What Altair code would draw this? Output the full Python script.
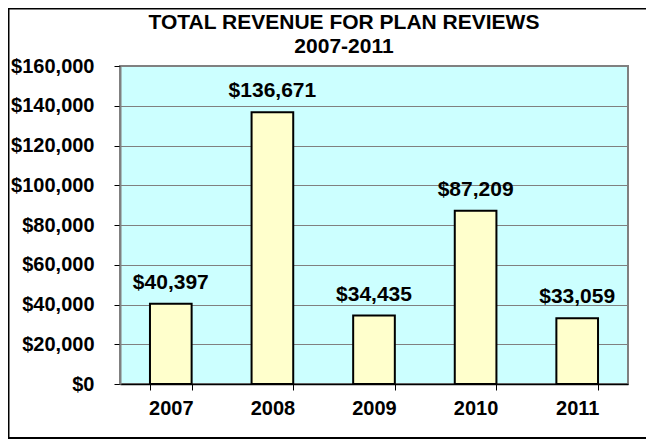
import altair as alt
import pandas as pd

years = ["2007", "2008", "2009", "2010", "2011"]
revenue = [40397, 136671, 34435, 87209, 33059]
y_ticks = [0, 20000, 40000, 60000, 80000, 100000, 120000, 140000, 160000]
title_lines = ["TOTAL REVENUE FOR PLAN REVIEWS", "2007-2011"]

df = pd.DataFrame({"year": years, "revenue": revenue})
title_df = pd.DataFrame({"line": title_lines, "row": [0, 1]})
one = pd.DataFrame({"k": [0]})
FONT = "Liberation Sans"

x_enc = alt.X(
    "year:N",
    title=None,
    sort=years,
    scale=alt.Scale(paddingInner=0.59, paddingOuter=0.295),
    axis=alt.Axis(
        labelAngle=0,
        labelFont=FONT,
        labelFontSize=20,
        labelFontWeight="bold",
        labelColor="#000000",
        labelPadding=8,
        labelOverlap=False,
        tickBand="extent",
        tickSize=6,
        tickColor="#000000",
        domainColor="#000000",
        domainWidth=1.5,
        grid=False,
    ),
)
y_enc = alt.Y(
    "revenue:Q",
    title=None,
    scale=alt.Scale(domain=[0, 160000], nice=False),
    axis=alt.Axis(
        values=y_ticks,
        tickCount=20,
        format="$,.0f",
        labelFont=FONT,
        labelFontSize=20,
        labelFontWeight="bold",
        labelColor="#000000",
        labelPadding=20,
        labelOverlap=False,
        labelBound=False,
        tickSize=6,
        tickColor="#000000",
        domainColor="#808080",
        domainWidth=2,
        grid=True,
        gridColor="#808080",
        gridWidth=1,
        gridOpacity=1,
    ),
)

bars = alt.Chart(df).mark_bar(
    color="#FFFFCC", stroke="#000000", strokeWidth=2
).encode(x=x_enc, y=y_enc)

labels = alt.Chart(df).mark_text(
    font=FONT, fontSize=21, fontWeight="bold", color="#000000",
    baseline="alphabetic", dy=-15
).encode(x=x_enc, y=y_enc,
         text=alt.Text("revenue:Q", format="$,.0f"))

title_top = alt.Chart(title_df).transform_filter("datum.row == 0").mark_text(
    font=FONT, fontSize=21, fontWeight="bold", color="#000000",
    baseline="alphabetic", align="center"
).encode(x=alt.value(224), y=alt.value(-37), text="line:N")
title_bot = alt.Chart(title_df).transform_filter("datum.row == 1").mark_text(
    font=FONT, fontSize=21, fontWeight="bold", color="#000000",
    baseline="alphabetic", align="center"
).encode(x=alt.value(224), y=alt.value(-13), text="line:N")

frame = alt.Chart(one).mark_rect(
    fill="transparent", stroke="#000000", strokeWidth=2
).encode(x=alt.value(-111.5), x2=alt.value(600), y=alt.value(-57.5), y2=alt.value(372))

chart = alt.layer(bars, labels, title_top, title_bot, frame).properties(
    width=508,
    height=318,
    autosize=alt.AutoSizeParams(type="none"),
    padding={"left": 112, "top": 58, "right": 18, "bottom": 55},
).configure(background="#FFFFFF").configure_view(
    fill="#CCFFFF", stroke="#808080", strokeWidth=2
)

chart.save("out.html", embed_options={"renderer": "svg", "actions": False})
